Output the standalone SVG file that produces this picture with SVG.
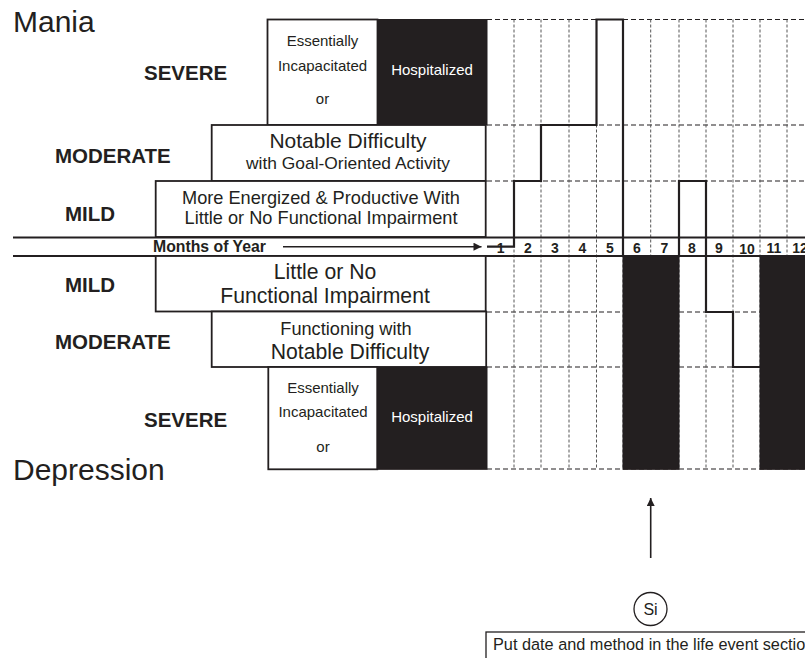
<svg xmlns="http://www.w3.org/2000/svg" width="805" height="658" viewBox="0 0 805 658">
<style>
text{font-family:"Liberation Sans",Arial,sans-serif;fill:#231f20}
.big{font-size:30px}
.lvl{font-size:20.5px;font-weight:bold}
.box{fill:#fff;stroke:#231f20;stroke-width:1.8}
.blk{fill:#231f20;stroke:#231f20;stroke-width:1}
.s15{font-size:15px}
.w{fill:#fff}
.hd{stroke:#231f20;stroke-width:1.2;stroke-dasharray:5 3;fill:none}
.vd{stroke:#555;stroke-width:1;stroke-dasharray:3 2;fill:none}
.tr{stroke:#231f20;stroke-width:2.2;fill:none;stroke-linejoin:miter}
.num{font-size:14px;font-weight:bold;text-anchor:middle}
.c{text-anchor:middle}
</style>
<defs>
<marker id="ah" viewBox="0 0 10 10" refX="10" refY="5" markerWidth="10" markerHeight="8" markerUnits="userSpaceOnUse" orient="auto">
<path d="M0,0 L10,5 L0,10 z" fill="#231f20"/>
</marker>
</defs>
<rect width="805" height="658" fill="#fff"/>

<g id="labels">
<text class="big" x="13" y="32">Mania</text>
<text class="big" x="13" y="480">Depression</text>
<text class="lvl" x="144" y="80">SEVERE</text>
<text class="lvl" x="55" y="163">MODERATE</text>
<text class="lvl" x="65" y="221">MILD</text>
<text class="lvl" x="65" y="292">MILD</text>
<text class="lvl" x="55" y="349">MODERATE</text>
<text class="lvl" x="144" y="427">SEVERE</text>
</g>

<g id="grid">
<path class="hd" d="M487,19.5H805M487,125H805M487,181H805M487,312H805M487,367H805M487,469H805"/>
<path class="vd" d="M514,19.5V469M541,19.5V469M569,19.5V469M596.5,19.5V469M623,19.5V469M650.7,19.5V469M679,19.5V469M706,19.5V469M733,19.5V469M760,19.5V469M787,19.5V469"/>
</g>

<g id="mania-severe">
<rect class="box" x="267.5" y="19.5" width="110" height="105.5"/>
<rect class="blk" x="377.5" y="19.5" width="109.5" height="105.5"/>
<text class="s15 c" x="322.5" y="45.7">Essentially</text>
<text class="s15 c" x="322.5" y="71">Incapacitated</text>
<text class="s15 c" x="322.5" y="104.3">or</text>
<text class="s15 c w" x="432" y="75">Hospitalized</text>
</g>

<g id="mania-moderate">
<rect class="box" x="211.7" y="125" width="274" height="56"/>
<text class="c" x="348" y="148.3" font-size="21">Notable Difficulty</text>
<text class="c" x="348" y="169.3" font-size="17.4">with Goal-Oriented Activity</text>
</g>

<g id="mania-mild">
<rect class="box" x="155.7" y="181" width="330" height="56"/>
<text class="c" x="321" y="204" font-size="18.2">More Energized &amp; Productive With</text>
<text class="c" x="321" y="224" font-size="18.2">Little or No Functional Impairment</text>
</g>

<g id="months-row">
<path d="M13,237.5H805M13,256H805" stroke="#231f20" stroke-width="2" fill="none"/>
<text x="153" y="252" font-size="15.8" font-weight="bold">Months of Year</text>
<text class="num" x="500.6" y="252.5">1</text>
<text class="num" x="527.8" y="252.5">2</text>
<text class="num" x="555" y="252.5">3</text>
<text class="num" x="582.5" y="252.5">4</text>
<text class="num" x="610" y="252.5">5</text>
<text class="num" x="637" y="252.5">6</text>
<text class="num" x="664.5" y="252.5">7</text>
<text class="num" x="692" y="252.5">8</text>
<text class="num" x="719" y="252.5">9</text>
<text class="num" x="747" y="253.5">10</text>
<text class="num" x="774" y="252.5">11</text>
<text class="num" x="800" y="252.5">12</text>
</g>

<g id="depression-mild">
<rect class="box" x="155.7" y="256" width="330" height="55.5"/>
<text class="c" x="325" y="279.3" font-size="21.2">Little or No</text>
<text class="c" x="325" y="303" font-size="21.2">Functional Impairment</text>
</g>

<g id="depression-moderate">
<rect class="box" x="211.7" y="311.5" width="274.5" height="55.5"/>
<text class="c" x="346" y="335" font-size="18.2">Functioning with</text>
<text class="c" x="350" y="359" font-size="21.2">Notable Difficulty</text>
</g>

<g id="depression-severe">
<rect class="box" x="268.3" y="367" width="109" height="102.3"/>
<rect class="blk" x="377.3" y="367" width="109.7" height="102.3"/>
<text class="s15 c" x="323" y="392.7">Essentially</text>
<text class="s15 c" x="323" y="417">Incapacitated</text>
<text class="s15 c" x="323" y="451.7">or</text>
<text class="s15 c w" x="432" y="422">Hospitalized</text>
</g>

<g id="episodes">
<rect class="blk" x="623" y="256" width="56" height="213.3"/>
<rect class="blk" x="760" y="256" width="46" height="213.3"/>
</g>

<g id="connectors">
<path d="M283,246.7H481.5" stroke="#231f20" stroke-width="1.6" fill="none" marker-end="url(#ah)"/>
<path class="tr" d="M487,246.7H514V181H541V125H596.5V19.5H623V256"/>
<path class="tr" d="M679,256V181H706V312H733V367H760"/>
<path d="M650.7,558V498" stroke="#231f20" stroke-width="1.6" fill="none" marker-end="url(#ah)"/>
</g>

<g id="si">
<circle cx="650.5" cy="609" r="16.5" fill="#fff" stroke="#231f20" stroke-width="1.3"/>
<text class="c" x="650.5" y="615" font-size="16">Si</text>
</g>

<g id="note">
<rect x="486" y="632" width="340" height="40" fill="#fff" stroke="#231f20" stroke-width="1.3"/>
<text x="493" y="649.5" font-size="16.3">Put date and method in the life event section</text>
</g>
</svg>
